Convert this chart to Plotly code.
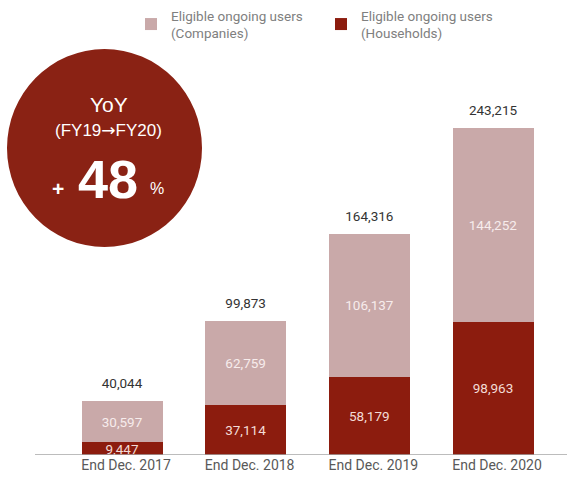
import plotly.graph_objects as go

# Eligible ongoing users by period
periods = ["End Dec. 2017", "End Dec. 2018", "End Dec. 2019", "End Dec. 2020"]
households = [9447, 37114, 58179, 98963]
companies = [30597, 62759, 106137, 144252]
totals = [40044, 99873, 164316, 243215]

DARK = "#8c1c0e"
LIGHT = "#c9a9a9"
W, H = 570, 479
BASE = 455  # pixel row of the baseline (bottom of plot area)

x = list(range(len(periods)))
fmt = lambda v: f"{v:,}"


def px(xp):
    return xp / W


def py(yp):
    return (BASE - yp) / BASE


fig = go.Figure()
fig.add_trace(go.Bar(
    x=x, y=households, name="Eligible ongoing users<br>(Households)",
    marker=dict(color=DARK, line=dict(width=0)),
    text=[fmt(v) for v in households], textposition="inside",
    insidetextanchor="middle",
    textfont=dict(color="#f3dcd7", size=13.5, family="Roboto"),
    width=0.655, hoverinfo="skip",
))
fig.add_trace(go.Bar(
    x=x, y=companies, name="Eligible ongoing users<br>(Companies)",
    marker=dict(color=LIGHT, line=dict(width=0)),
    text=[fmt(v) for v in companies], textposition="inside",
    insidetextanchor="middle",
    textfont=dict(color="#f7ecec", size=13.5, family="Roboto"),
    width=0.655, hoverinfo="skip",
))
# Totals above each stack
fig.add_trace(go.Scatter(
    x=x, y=totals, mode="markers+text", text=[fmt(v) for v in totals],
    textposition="top center",
    marker=dict(size=14, opacity=0),
    textfont=dict(color="#333333", size=13.5, family="Roboto"),
    showlegend=False, hoverinfo="skip", cliponaxis=False,
))

# Baseline
fig.add_shape(type="line", xref="paper", yref="y",
              x0=px(35), x1=px(567), y0=0, y1=0,
              line=dict(color="#a6a6a6", width=1.3))

# YoY badge
fig.add_shape(type="circle", xref="paper", yref="paper",
              x0=px(7), x1=px(202), y0=py(247), y1=py(49),
              fillcolor="#8a2214", line=dict(width=0), layer="below")

arrow = '<span style="font-family:DejaVu Sans">→</span>'
badge = [
    ("YoY", 109, 105, 21),
    (f"(FY19{arrow}FY20)", 108, 130, 17),
    ("<b>48</b>", 108, 179, 54),
    ("<b>+</b>", 58, 188, 21),
    ("%", 157, 188, 16),
]
for txt, bx, by, size in badge:
    fig.add_annotation(text=txt, xref="paper", yref="paper",
                       x=px(bx), y=py(by), xanchor="center", yanchor="middle",
                       showarrow=False,
                       font=dict(color="white", size=size, family="Liberation Sans"))

fig.update_layout(
    width=W, height=H,
    margin=dict(l=0, r=0, t=0, b=H - BASE, pad=0, autoexpand=False),
    paper_bgcolor="white", plot_bgcolor="white",
    barmode="stack",
    uniformtext=dict(minsize=12, mode="show"),
    showlegend=True,
    legend=dict(
        orientation="h", x=px(131), y=1.0, xanchor="left", yanchor="top",
        entrywidth=145, entrywidthmode="pixels",
        font=dict(color="#808080", size=13.5, family="Roboto"),
        bgcolor="rgba(0,0,0,0)", traceorder="reversed",
    ),
    xaxis=dict(
        range=[-122 / 123.67, 3 + (W - 493) / 123.67],
        tickvals=x, ticktext=periods, showgrid=False, zeroline=False,
        showline=False, ticks="", ticklabelshift=4,
        tickfont=dict(color="#595959", size=14, family="Roboto"),
        fixedrange=True,
    ),
    yaxis=dict(
        range=[0, BASE * 243215 / 327], visible=False, showgrid=False,
        zeroline=False, fixedrange=True,
    ),
)

fig.write_html("out.html")
